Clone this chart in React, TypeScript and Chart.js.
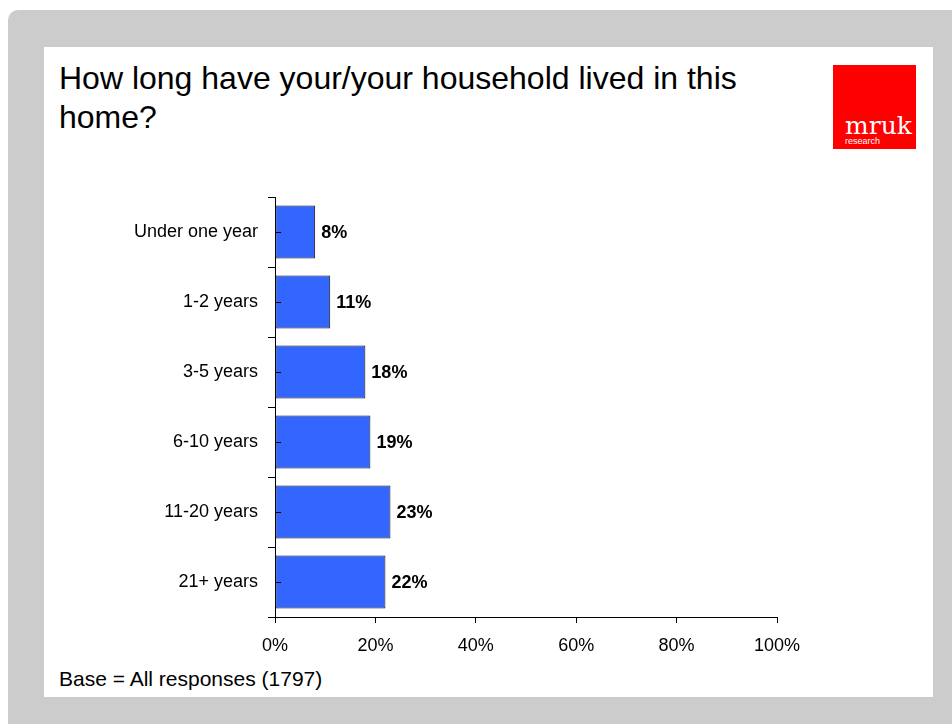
import React, { useEffect, useRef } from 'react';
import { Chart, registerables } from 'chart.js';

Chart.register(...registerables);

const categories = ['Under one year', '1-2 years', '3-5 years', '6-10 years', '11-20 years', '21+ years'];
const shares = [8, 11, 18, 19, 23, 22];
const xTickValues = [0, 20, 40, 60, 80, 100];

const FONT = '"Liberation Sans", Arial, Helvetica, sans-serif';

export default function App() {
  const ref = useRef<HTMLCanvasElement>(null);

  useEffect(() => {
    const canvas = ref.current;
    if (!canvas) return;

    const labelPlugin = {
      id: 'valueLabels',
      afterDatasetsDraw(chart: any) {
        const c = chart.ctx as CanvasRenderingContext2D;
        const yScale = chart.scales.y;
        const left = chart.chartArea.left;
        c.save();
        c.strokeStyle = '#000';
        c.lineWidth = 1;
        categories.forEach((_, i) => {
          const py = Math.round(yScale.getPixelForValue(i)) + 0.5;
          c.beginPath();
          c.moveTo(left, py);
          c.lineTo(left + 6, py);
          c.stroke();
        });
        c.font = 'bold 18px ' + FONT;
        c.fillStyle = '#000';
        c.textBaseline = 'middle';
        c.textAlign = 'left';
        const meta = chart.getDatasetMeta(0);
        meta.data.forEach((bar: any, i: number) => {
          c.fillText(shares[i] + '%', bar.x + 6, bar.y + 1);
        });
        c.restore();
      },
    };

    const chart = new Chart(canvas, {
      type: 'bar',
      data: {
        labels: categories,
        datasets: [
          {
            data: shares,
            backgroundColor: '#3366FF',
            borderColor: '#111111',
            borderWidth: 1,
            borderSkipped: false,
            barPercentage: 0.76,
            categoryPercentage: 1,
          },
        ],
      },
      options: {
        indexAxis: 'y',
        responsive: false,
        animation: false,
        devicePixelRatio: 1,
        layout: { padding: { left: 0, top: 197, right: 175, bottom: 0 } },
        plugins: {
          legend: { display: false },
          tooltip: { enabled: false },
        },
        scales: {
          x: {
            min: 0,
            max: 100,
            afterBuildTicks: (s: any) => {
              s.ticks = xTickValues.map((v) => ({ value: v }));
            },
            ticks: {
              callback: (v: any) => v + '%',
              font: { family: FONT, size: 18 },
              color: '#000',
              padding: 12,
              maxRotation: 0,
              autoSkip: false,
            },
            grid: { drawOnChartArea: false, drawTicks: true, tickLength: 6, color: '#000' },
            border: { color: '#000' },
            afterFit: (s: any) => {
              s.height = 107;
              s.paddingLeft = 0;
              s.paddingRight = 0;
            },
          },
          y: {
            ticks: {
              font: { family: FONT, size: 18 },
              color: '#000',
              padding: 10,
              autoSkip: false,
            },
            grid: { drawOnChartArea: false, drawTicks: true, tickLength: 7, color: '#000', offset: true },
            border: { color: '#000' },
            afterFit: (s: any) => {
              s.width = 275;
              s.paddingTop = 0;
              s.paddingBottom = 0;
            },
          },
        },
      },
      plugins: [labelPlugin],
    } as any);

    return () => chart.destroy();
  }, []);

  return (
    <div style={{ position: 'absolute', left: 0, top: 0, width: 952, height: 724, overflow: 'hidden', fontFamily: FONT }}>
      <div
        style={{
          position: 'absolute',
          left: 8,
          top: 10,
          right: -20,
          bottom: -20,
          background: '#CCCCCC',
          borderRadius: 10,
        }}
      />
      <div style={{ position: 'absolute', left: 44, top: 47, width: 889, height: 650, background: '#FFFFFF' }} />
      <div
        style={{
          position: 'absolute',
          left: 59,
          top: 59,
          width: 720,
          fontSize: 32,
          lineHeight: '38.5px',
          color: '#000',
        }}
      >
        How long have your/your household lived in this home?
      </div>
      <div style={{ position: 'absolute', left: 833, top: 65, width: 83, height: 84, background: '#FF0000' }} />
      <div
        style={{
          position: 'absolute',
          left: 845,
          top: 113,
          fontFamily: '"DejaVu Serif", "Liberation Serif", serif',
          fontSize: 25,
          lineHeight: '25px',
          color: '#FFFFFF',
          whiteSpace: 'nowrap',
        }}
      >
        mruk
      </div>
      <div
        style={{
          position: 'absolute',
          left: 845,
          top: 136,
          fontSize: 9,
          lineHeight: '10px',
          color: '#FFFFFF',
        }}
      >
        research
      </div>
      <div
        style={{
          position: 'absolute',
          left: 59,
          top: 667,
          fontSize: 21,
          lineHeight: '24px',
          color: '#000',
          whiteSpace: 'nowrap',
        }}
      >
        Base = All responses (1797)
      </div>
      <canvas ref={ref} width={952} height={724} style={{ position: 'absolute', left: 0, top: 0, width: 952, height: 724 }} />
    </div>
  );
}
